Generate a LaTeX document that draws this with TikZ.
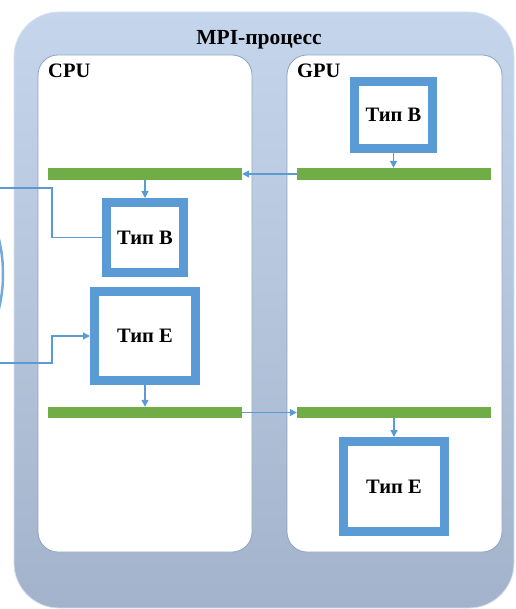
\documentclass[tikz,border=0pt]{standalone}
\usepackage{fontspec}
\setmainfont{Liberation Serif}
\usetikzlibrary{arrows.meta}
\definecolor{rimTop}{HTML}{C5D6EC}
\definecolor{rimBot}{HTML}{A3B3CB}
\definecolor{panelLine}{HTML}{8EA3BF}
\definecolor{boxBlue}{HTML}{5B9BD5}
\definecolor{barGreen}{HTML}{70AD47}
\definecolor{linkBlue}{HTML}{5B9BD5}
\begin{document}
\begin{tikzpicture}[x=1pt,y=-1pt,
  rim/.style={rounded corners=45pt, top color=rimTop, bottom color=rimBot,
    draw=rimTop!70!white, line width=0.8pt, inner sep=0pt,
    minimum width=500pt, minimum height=596pt},
  panel/.style={rounded corners=20pt, fill=white, draw=panelLine,
    line width=0.8pt, inner sep=0pt, minimum height=497pt},
  label/.style={font=\bfseries\fontsize{20.5}{24}\selectfont, inner sep=0pt},
  kernel/.style={draw=boxBlue, line width=9pt, fill=white, inner sep=0pt,
    font=\bfseries\fontsize{20.5}{24}\selectfont},
  bar/.style={fill=barGreen, minimum width=194pt, minimum height=12pt, inner sep=0pt},
  plain/.style={draw=linkBlue, line width=1.3pt},
  link/.style={plain, -{Triangle[length=7pt,width=7pt]}}
]
\useasboundingbox (0,0) rectangle (515,609);

% rim of the process and the two device panels
\node[rim] (proc) at (264,310) {};
\node[panel, minimum width=214pt] (cpu) at (145,303.5) {};
\node[panel, minimum width=215pt] (gpu) at (394.5,303.5) {};

\node[label, anchor=base, font=\bfseries\fontsize{21.5}{25}\selectfont] (title) at (259,45) {MPI-процесс};
\node[label, anchor=base west] (cpulbl) at (48,78) {CPU};
\node[label, anchor=base west] (gpulbl) at (297,78) {GPU};

% partly visible neighbour on the left
\begin{scope}
  \clip (0,0) rectangle (515,609);
  \draw[boxBlue!85!white, line width=2.5pt] (-147,274) circle (150pt);
\end{scope}

% synchronisation bars
\node[bar] (cbarA) at (145,174) {};
\node[bar] (gbarA) at (394,174) {};
\node[bar, minimum height=11pt] (cbarB) at (145,412.5) {};
\node[bar, minimum height=11pt] (gbarB) at (394,412.5) {};

% kernels
\node[kernel, minimum width=78pt, minimum height=67pt] (gB) at (393.5,115) {Тип B};
\node[kernel, minimum width=77pt, minimum height=70pt] (cB) at (145,237.5) {Тип B};
\node[kernel, minimum width=101pt, minimum height=89pt] (cE) at (145,336) {Тип E};
\node[kernel, minimum width=101pt, minimum height=90pt] (gE) at (394,486.5) {Тип E};

% flow
\draw[link] (gB.south) -- (gB.south |- gbarA.north);
\draw[link] (gbarA.west) -- (cbarA.east);
\draw[link] (cbarA.south -| cB.north) -- (cB.north);
\draw[link] (cE.south) -- (cE.south |- cbarB.north);
\draw[link] (cbarB.east) -- (gbarB.west);
\draw[link] (gbarB.south -| gE.north) -- (gE.north);

% incoming links from the left
\coordinate (inB) at (0,188);
\coordinate (kinkB) at (52,188);
\coordinate (inE) at (0,363);
\coordinate (kinkE) at (52,363);
\draw[plain] (inB) -- (kinkB) |- (cB.west);
\draw[link] (inE) -- (kinkE) |- (cE.west);
\end{tikzpicture}
\end{document}
